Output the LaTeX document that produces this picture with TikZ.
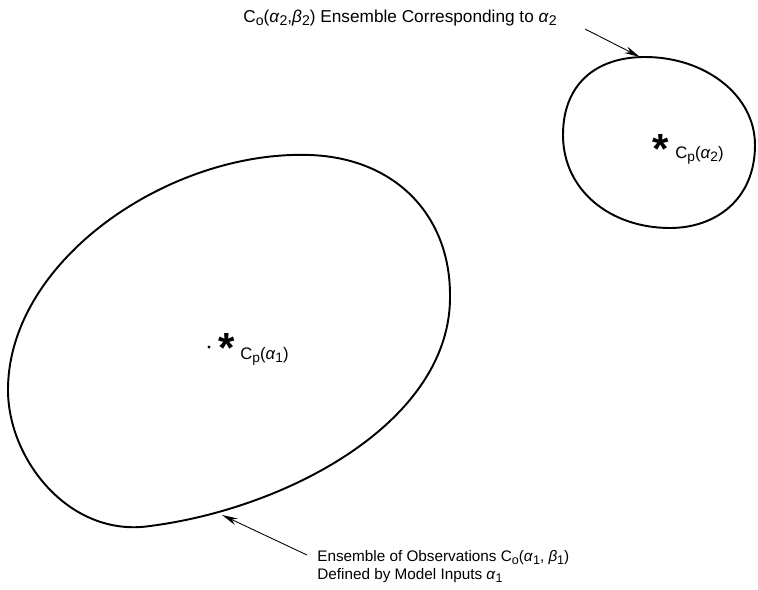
\documentclass[tikz,border=0pt]{standalone}
\usepackage{fontspec}
\usepackage{graphicx}
\setmainfont{Liberation Sans}
\usetikzlibrary{arrows.meta}
\newcommand{\lowr}[1]{\raisebox{-0.42ex}{\scalebox{0.82}{#1}}}
\newcommand{\ga}{\textit{α}}
\newcommand{\gb}{\textit{β}}

\begin{document}
\begin{tikzpicture}[
        x=0.02cm, y=-0.02cm,
        every node/.style={inner sep=0pt},
        toplabel/.style={font=\fontsize{9.8}{11}\selectfont},
        botlabel/.style={font=\fontsize{8.7}{10.2}\selectfont},
        centre/.style={font=\fontsize{9.5}{10}\selectfont},
        blob/.style={line width=1.1pt, line join=round},
        pointer/.style={line width=0.5pt, -{Stealth[length=9pt, width=4pt]}},
        star/.style={font=\fontsize{24}{24}\selectfont\bfseries}
    ]
        \useasboundingbox (0,0) rectangle (758,589);
        % the two ensembles
        \draw[blob] (310,155) .. controls (395,158) and (450,215) .. (450,295)
            .. controls (452,420) and (290,508) .. (150,526)
            .. controls (70,538) and (8,460) .. (8,390)
            .. controls (8,260) and (170,150) .. cycle;
        \draw[blob] (645,57) .. controls (705,57) and (755,95) .. (755,145)
            .. controls (755,200) and (715,228) .. (670,228)
            .. controls (610,228) and (563,190) .. (563,135)
            .. controls (563,85) and (595,57) .. cycle;
        % centres
        \fill (209,347) circle (1.6);
        \node[star] (star1) at (227,348) {*};
        \node[centre, anchor=base west] (cp1) at (240,359) {C\lowr{p}(\ga\lowr{1})};
        \node[star] (star2) at (661,149) {*};
        \node[centre, anchor=base west] (cp2) at (675,158) {C\lowr{p}(\ga\lowr{2})};
        % labels
        \node[toplabel, anchor=base west] (lab2) at (243,22)
            {C\lowr{o}(\ga\lowr{2},\gb\lowr{2}) Ensemble Corresponding to \ga\lowr{2}};
        \node[botlabel, anchor=north west, align=left] (lab1) at (317,550)
            {Ensemble of Observations C\lowr{o}(\ga\lowr{1}, \gb\lowr{1})\\
             Defined by Model Inputs \ga\lowr{1}};
        \coordinate (tip2) at (640,57);
        \coordinate (tip1) at (222,515);
        \coordinate (tail2) at (585,29);
        \coordinate (tail1) at (307,555);
        \draw[pointer] (tail2) -- (tip2);
        \draw[pointer] (tail1) -- (tip1);
    \end{tikzpicture}
\end{document}
